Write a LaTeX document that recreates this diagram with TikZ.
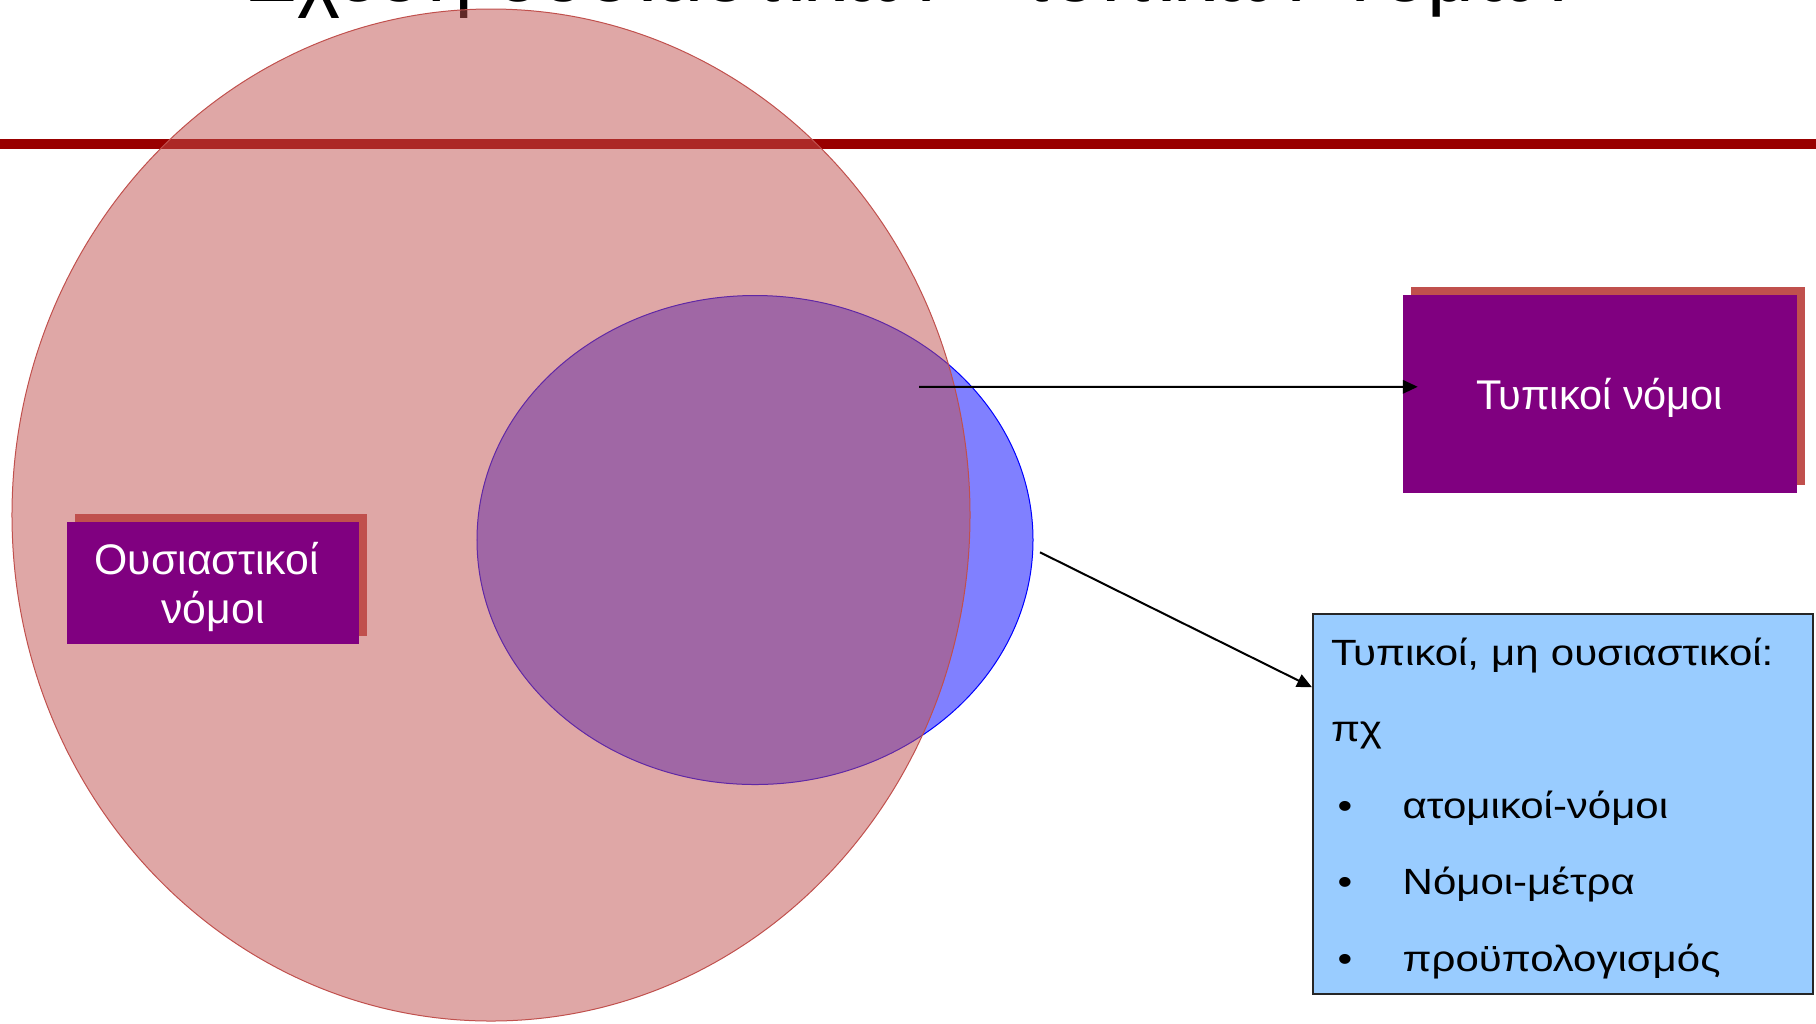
\documentclass[tikz,border=0pt]{standalone}
\usepackage{fontspec}
\setmainfont{Liberation Sans}
\newfontfamily\widefont[FakeStretch=1.15]{Liberation Sans}
\usetikzlibrary{arrows.meta,shadows}
\definecolor{bandred}{HTML}{990000}
\definecolor{shred}{HTML}{C0504D}
\definecolor{lblue}{HTML}{8080FF}
\definecolor{purp}{HTML}{800080}
\definecolor{skyb}{HTML}{99CCFF}
\begin{document}
\begin{tikzpicture}[x=0.4pt,y=-0.4pt,
  purpbox/.style={fill=purp, text=white, inner sep=0pt, align=center,
    font=\fontsize{16.6pt}{19.6pt}\selectfont,
    drop shadow={shadow xshift=3.1pt, shadow yshift=3.2pt, fill=shred, opacity=1}},
  arr/.style={line width=0.8pt, -{Triangle[length=6pt,width=5.4pt]}},
  infobox/.style={draw=black!85, fill=skyb, line width=0.8pt, inner xsep=7.2pt,
    inner ysep=0pt, text width=185.6pt, minimum height=152pt, align=left,
    font=\widefont\fontsize{14.6pt}{30.6pt}\selectfont}
]
\useasboundingbox (0,0) rectangle (1816,1023);
\node[anchor=base west, inner sep=0pt, font=\fontsize{32.8pt}{36pt}\selectfont] (title) at (246,1) {Σχέση ουσιαστικών - τυπικών νόμων};
\fill[bandred] (0,139) rectangle (1816,149);
\draw[blue, fill=lblue, line width=0.4pt] (755,540) ellipse [x radius=111.2pt, y radius=97.8pt];
\draw[shred, fill=shred, fill opacity=0.5, line width=0.4pt] (491,515) ellipse [x radius=191.6pt, y radius=202.4pt];
\node[purpbox, minimum width=116.9pt, minimum height=48.9pt, font=\fontsize{17.1pt}{19.6pt}\selectfont] (onode) at (213,583) {\rule{0pt}{16.3pt}Ουσιαστικοί\hspace*{5pt}\\νόμοι};
\node[purpbox, minimum width=157.8pt, minimum height=79.1pt, text depth=0pt] (tnode) at (1600,393.8) {Τυπικοί νόμοι};
\node[infobox, anchor=north west] (lbox) at (1312,613) {\rule{0pt}{14.4pt}Τυπικοί, μη ουσιαστικοί:\\
πχ\\
\hspace*{2.6pt}\makebox[26.1pt][l]{•}ατομικοί-νόμοι\\
\hspace*{2.6pt}\makebox[26.1pt][l]{•}Νόμοι-μέτρα\\
\hspace*{2.6pt}\makebox[26.1pt][l]{•}προϋπολογισμός};
\coordinate (a1s) at (919,386.8);
\coordinate (a2s) at (1040,552.3);
\draw[arr] (a1s) -- ([xshift=6.2pt,yshift=2.8pt]tnode.west);
\draw[arr] (a2s) -- ([yshift=-29.7pt]lbox.north west);
\end{tikzpicture}
\end{document}
